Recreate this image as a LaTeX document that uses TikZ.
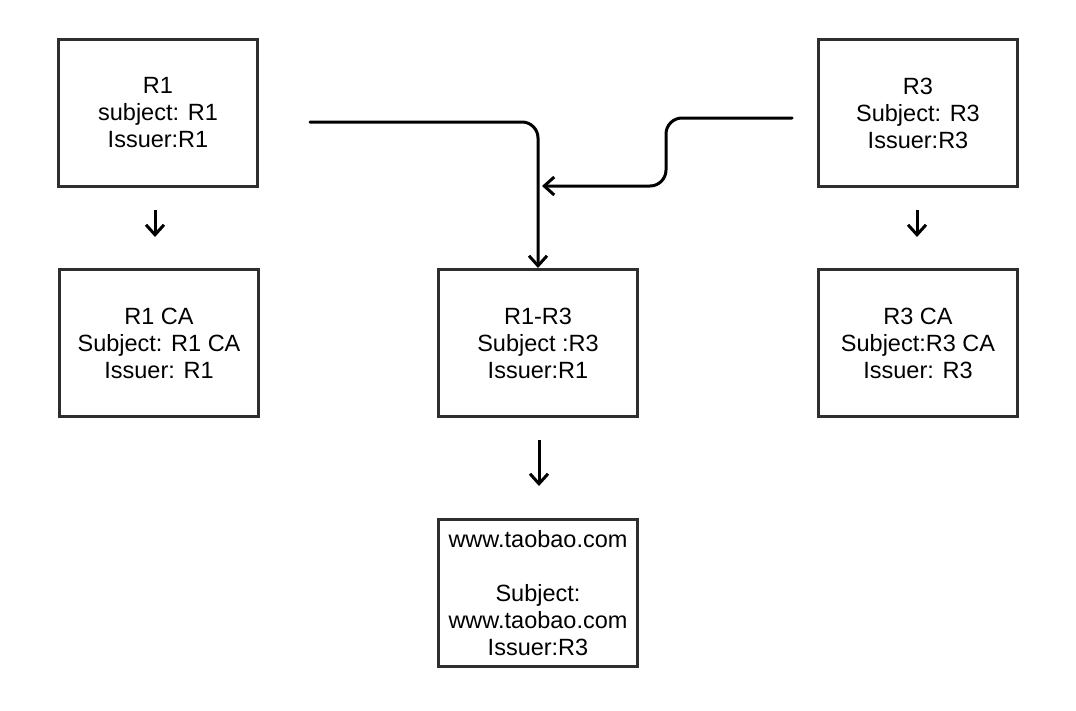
\documentclass[tikz,border=0pt]{standalone}
\usepackage{fontspec}
\setmainfont{Liberation Sans}
\usetikzlibrary{arrows.meta}
\begin{document}
\begin{tikzpicture}[x=1pt,y=-1pt,
  box/.style={draw=black!82,line width=3pt,rectangle,minimum width=199pt,minimum height=147pt,
    inner sep=0pt,align=center,font=\fontsize{23.5pt}{27pt}\selectfont},
  conn/.style={line width=3pt,draw=black!88,line cap=round},
  arr/.style={line width=3pt,draw=black,-{Straight Barb[length=10pt,width=18pt]}}]
\useasboundingbox (0,0) rectangle (1076,710);
\node[box] (r1) at (158,113) {R1\\subject: R1\\Issuer:R1};
\node[box] (r3) at (918,113) {R3\\Subject: R3\\Issuer:R3};
\node[box] (r1ca) at (159,343) {R1 CA\\Subject: R1 CA\\Issuer: R1};
\node[box] (r13) at (538,343) {R1-R3\\Subject :R3\\Issuer:R1};
\node[box] (r3ca) at (918,343) {R3 CA\\Subject:R3 CA\\Issuer: R3};
\node[box] (tb) at (538,593) {www.taobao.com\\[27pt]Subject:\\www.taobao.com\\Issuer:R3};
\coordinate (c1) at (310,122);
\coordinate (c2) at (792,118);
\coordinate (j) at (542,186);
\coordinate (a1s) at (155,210); \coordinate (a1e) at (155,237);
\coordinate (a3s) at (917,210); \coordinate (a3e) at (917,237);
\coordinate (a2s) at (539,440); \coordinate (a2e) at (539,486);
\draw[conn,arr,rounded corners=16pt] (c1) -| (r13.north);
\draw[conn,arr,rounded corners=16pt] (c2) -| (666,152) |- (j);
\draw[arr] (a1s) -- (a1e);
\draw[arr] (a3s) -- (a3e);
\draw[arr] (a2s) -- (a2e);
\end{tikzpicture}
\end{document}
